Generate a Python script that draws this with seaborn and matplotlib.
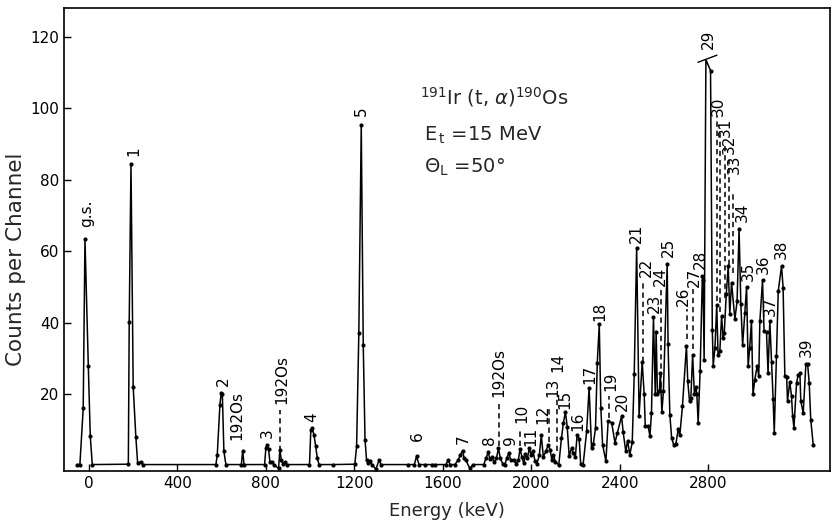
import numpy as np
import matplotlib
matplotlib.use("Agg")
import matplotlib.pyplot as plt
import seaborn as sns

# ---------------- data ----------------
energy_kev = [
    -54, -41, -26, -18, -3, 6, 15,
    178, 182, 190, 200, 212, 220, 235, 244,
    574, 580, 592, 598, 603, 610, 619,
    689, 695, 701,
    794, 800, 806, 812, 818, 827, 836,
    857, 863, 870, 877, 886, 895,
    997, 1003, 1009, 1017, 1025, 1032, 1040,
    1104, 1202, 1210, 1220, 1231, 1240, 1248, 1255, 1263, 1270, 1279, 1297, 1312, 1320,
    1442, 1471, 1481, 1492, 1519, 1549, 1564, 1614, 1624, 1632,
    1654, 1669, 1679, 1689, 1696, 1704, 1722, 1736,
    1785, 1794, 1805, 1813, 1822, 1831, 1842, 1851, 1860, 1871, 1880, 1889, 1898,
    1907, 1921, 1930, 1941, 1949, 1957, 1966, 1973, 1982, 1991, 1998, 2007, 2016,
    2025, 2036, 2045, 2054, 2066, 2076, 2084, 2093, 2100, 2109, 2124,
    2136, 2145, 2154, 2162, 2171, 2182, 2190, 2199, 2207, 2216, 2223, 2234,
    2250, 2261, 2272, 2280, 2290, 2298, 2307, 2314, 2322, 2337, 2347, 2363,
    2378, 2388, 2408, 2415, 2427, 2435, 2445, 2456, 2465, 2476, 2487, 2501,
    2510, 2515, 2528, 2536, 2543, 2552, 2560, 2564, 2570, 2579, 2583, 2590,
    2597, 2614, 2618, 2626, 2634, 2644, 2653, 2664, 2671, 2683, 2701, 2707,
    2715, 2721, 2729, 2737, 2744, 2748, 2754, 2763, 2773, 2776, 2781, 2789,
    2810, 2818, 2822, 2830, 2838, 2844, 2852, 2860, 2867, 2872, 2881, 2890,
    2897, 2905, 2920, 2930, 2939, 2947, 2955, 2965, 2973, 2980, 2987, 2995,
    3002, 3010, 3021, 3028, 3033, 3045, 3052, 3063, 3070, 3078, 3086, 3093,
    3098, 3108, 3116, 3131, 3138, 3146, 3154, 3158, 3168, 3176, 3181, 3187,
    3199, 3206, 3214, 3218, 3229, 3241, 3249, 3256, 3263, 3274,
]
counts = [
    0.3, 0.3, 16, 63.3, 28, 8.2, 0.3,
    0.4, 40.3, 84.3, 22, 8, 0.8, 1.0, 0.3,
    0.3, 3, 17, 20.4, 20, 4, 0.3,
    0.3, 4.2, 0.3,
    0.3, 5, 5.7, 4.6, 1, 1, 0.3,
    -0.8, 4.3, 1.5, 0.5, 1, 0.3,
    0.3, 10, 10.5, 8.7, 5.4, 2.2, 0.3,
    0.3, 0.4, 5.4, 37, 95.2, 33.7, 7.3, 1.5, 0.8, 1.2, 0.3, -1, 1.6, 0.3,
    0.3, 0.3, 2.6, 0.3, 0.3, 0.3, 0.3, 0.3, 1.6, 0.3,
    0.3, 1.5, 3, 4.2, 2, 1.5, -0.8, 0.3,
    0.3, 2, 3.7, 1.8, 2.3, 1, 2, 4.8, 2, 0.5, 0.3, 2, 3.6,
    1.5, 1.7, 0.5, 1.5, 4.7, 2.5, 0.6, 3.2, 2, 5, 3, 4.2, 1.4,
    0.5, 3, 8.5, 2.5, 4, 5.8, 4.5, 1.5, 3, 1, 0.2,
    7.7, 12, 15, 10.9, 2.6, 5, 3.5, 2.5, 8.7, 7.5, 0.5, 0.3,
    9.6, 21.8, 5, 6, 10.5, 28.8, 39.5, 16.2, 5.9, 1.2, 12.4, 12,
    6.4, 9, 13.8, 9.3, 4, 7, 3.1, 6.5, 25.5, 61, 14, 29,
    20, 11, 11, 8.2, 14.8, 41.5, 20, 37.5, 20, 21, 26, 15,
    20.8, 56.5, 34, 14.3, 7.8, 5.7, 6, 10.2, 8.5, 16.6, 33.5, 23.6,
    18, 19, 31, 20, 22, 20, 12, 26.5, 53, 52, 29.5, 113.5,
    110.5, 38, 28, 33, 45, 31, 32, 41.8, 35.8, 37, 47.9, 55.8,
    42.3, 51.2, 40.9, 46, 66.1, 45.1, 33.7, 42.8, 50, 27.8, 33, 40.4,
    19.9, 24, 28, 25, 40.4, 51.9, 37.6, 37.3, 26, 40.4, 29, 18.5,
    9.2, 30.6, 48.8, 55.8, 49.8, 25, 24.8, 18, 23.5, 19.5, 14, 10.6,
    23.2, 25.3, 25.8, 18, 14.8, 28.3, 28.3, 23.2, 12.9, 5.9,
]

# peak labels: text, energy, counts
peak_labels = ["g.s.", "1", "2", "192Os", "3", "192Os", "4", "5", "6", "7", "8",
               "192Os", "9", "10", "11", "12", "13", "14", "15", "16", "17",
               "18", "19", "20", "21", "22", "23", "24", "25", "26", "27",
               "28", "29", "30", "31", "32", "33", "34", "35", "36", "37",
               "38", "39"]
label_energy = [-10, 203, 607, 668, 806, 871, 1009, 1233, 1484, 1692, 1810,
                1851, 1905, 1955, 1996, 2051, 2099, 2118, 2151, 2209, 2265,
                2310, 2357, 2412, 2476, 2522, 2554, 2581, 2618, 2686, 2739,
                2762, 2799, 2845, 2875, 2897, 2917, 2955, 2980, 3048, 3078,
                3131, 3244]
label_counts = [70.5, 88, 23.5, 14, 9, 24, 13.5, 99, 8.2, 7.3, 7,
                26, 7, 14.5, 8.2, 14.3, 21.8, 28.8, 18.5, 12.4, 25.5,
                43.2, 23.5, 18, 65, 55.4, 45.5, 53, 61, 47.4, 52.6,
                57.7, 119.3, 100.6, 94.6, 89.9, 84.3, 70.8, 54.4, 56.3, 44.6,
                60.5, 33]

# dashed leader lines: energy, lower counts, upper counts
lead_energy = [863, 1853, 1948, 2081, 2114, 2350, 2505, 2585, 2702, 2729,
               2837, 2855, 2875, 2894, 2912]
lead_low = [4, 5.5, 5.5, 6.5, 4, 13.4, 29, 22, 35.3, 32.5,
            46, 43, 47, 56, 54]
lead_high = [15.5, 17.5, 10.5, 16.5, 18.5, 19.5, 51, 50, 43.7, 49.3,
             98, 94.5, 90.5, 85.5, 76]

x_ticks = [0, 400, 800, 1200, 1600, 2000, 2400, 2800]
y_ticks = [20, 40, 60, 80, 100, 120]

# ---------------- figure ----------------
sns.set_style("ticks")
plt.rcParams["font.family"] = ["DejaVu Sans"]

fig = plt.figure(figsize=(8.35, 5.31), dpi=100)
ax = fig.add_axes([0.0766, 0.113, 0.9174, 0.872])

E = np.array(energy_kev, dtype=float)
C = np.array(counts, dtype=float)

sns.lineplot(x=E, y=C, sort=False, estimator=None, color="black",
             linewidth=1.1, ax=ax)
mask = C < 112
sns.scatterplot(x=E[mask], y=C[mask], color="black", s=9, linewidth=0,
                ax=ax, zorder=3)

# break mark on peak 29
ax.plot([2753, 2839], [112.8, 114.8], color="black", lw=1.0)

for le, lo, hi in zip(lead_energy, lead_low, lead_high):
    ax.plot([le, le], [lo, hi], color="black", lw=1.1, ls=(0, (3.5, 2.5)))

for t, xe, yc in zip(peak_labels, label_energy, label_counts):
    ax.text(xe, yc, t, rotation=90, ha="center", va="center", fontsize=11,
            color="black")

ax.text(1496, 103.2, r"$^{191}$Ir (t, $\alpha$)$^{190}$Os", fontsize=14,
        ha="left", va="center")
ax.text(1515, 92.5, r"E$_{\,\mathrm{t}}$ =15 MeV", fontsize=14,
        ha="left", va="center")
ax.text(1515, 83.4, r"$\Theta_{\mathrm{L}}$ =50°", fontsize=14,
        ha="left", va="center")

ax.set_xlim(-113, 3350)
ax.set_ylim(-1.5, 128)
ax.set_xticks(x_ticks)
ax.set_xticklabels([str(v) for v in x_ticks])
ax.set_yticks(y_ticks)
ax.set_yticklabels([str(v) for v in y_ticks])
ax.tick_params(direction="in", length=5, width=1, labelsize=11, colors="black")
ax.set_xlabel("Energy (keV)", fontsize=13, labelpad=8)
ax.set_ylabel("Counts per Channel", fontsize=15.5)
ax.yaxis.set_label_coords(-0.05, 0.458)
for s in ax.spines.values():
    s.set_linewidth(1.2)
    s.set_color("black")

fig.savefig("out.png", dpi=100)
